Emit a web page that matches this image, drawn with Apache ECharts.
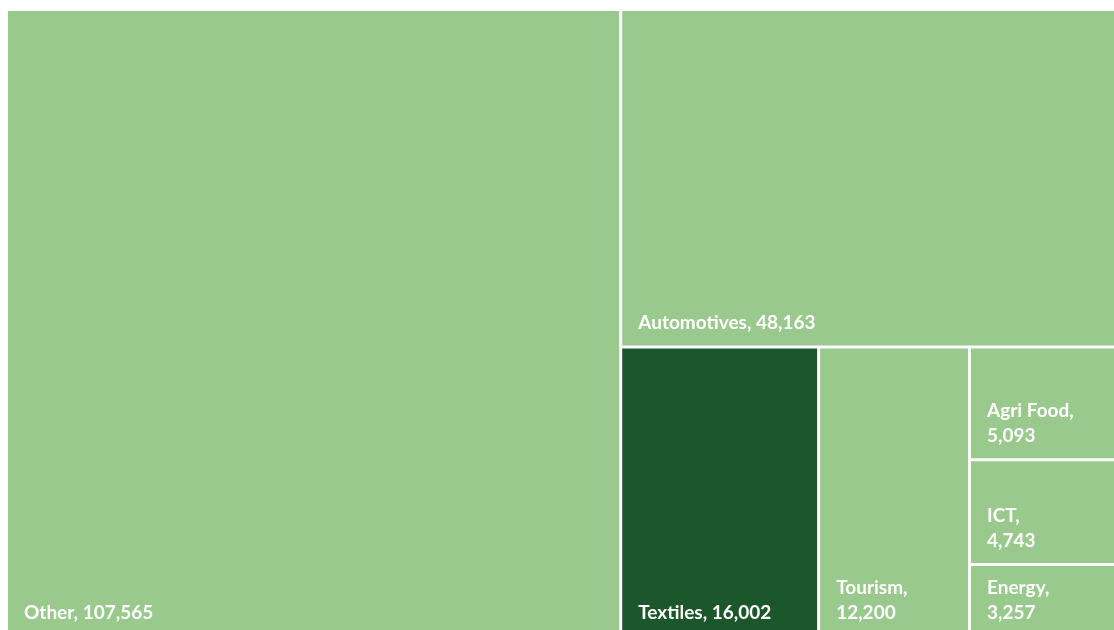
<!DOCTYPE html>
<html>
<head>
<meta charset="utf-8">
<script src="https://cdn.jsdelivr.net/npm/echarts@6/dist/echarts.min.js"></script>
<style>
  html, body { margin: 0; padding: 0; background: #ffffff; }
  #chart { width: 1114px; height: 630px; }
</style>
</head>
<body>
<div id="chart"></div>
<script>
// Sectors and their values
const sectors = ['Other', 'Automotives', 'Textiles', 'Tourism', 'Agri Food', 'ICT', 'Energy'];
const values = [107565, 48163, 16002, 12200, 5093, 4743, 3257];
const highlighted = ['Textiles'];

const LIGHT = '#99c98c';
const DARK = '#1c562b';
// Smaller tiles put the value on its own line
const WRAP_BELOW = 15000;

const data = sectors.map((name, i) => ({
  name: name,
  value: values[i],
  itemStyle: { color: highlighted.includes(name) ? DARK : LIGHT }
}));

const chart = echarts.init(document.getElementById('chart'));
chart.setOption({
  animation: false,
  series: [{
    type: 'treemap',
    left: 8,
    top: 11,
    width: 1122,
    height: 624,
    roam: false,
    nodeClick: false,
    breadcrumb: { show: false },
    squareRatio: 1,
    itemStyle: {
      gapWidth: 3,
      borderWidth: 0,
      borderColor: '#ffffff'
    },
    label: {
      show: true,
      position: 'insideBottomLeft',
      padding: [0, 4, 10, 16],
      color: '#ffffff',
      fontFamily: 'Lato',
      fontWeight: 'bold',
      fontSize: 19,
      lineHeight: 25,
      overflow: 'none',
      formatter: p => p.name + (p.value < WRAP_BELOW ? ',\n' : ', ') + p.value.toLocaleString('en-US')
    },
    emphasis: { disabled: true },
    data: data
  }]
});
</script>
</body>
</html>
